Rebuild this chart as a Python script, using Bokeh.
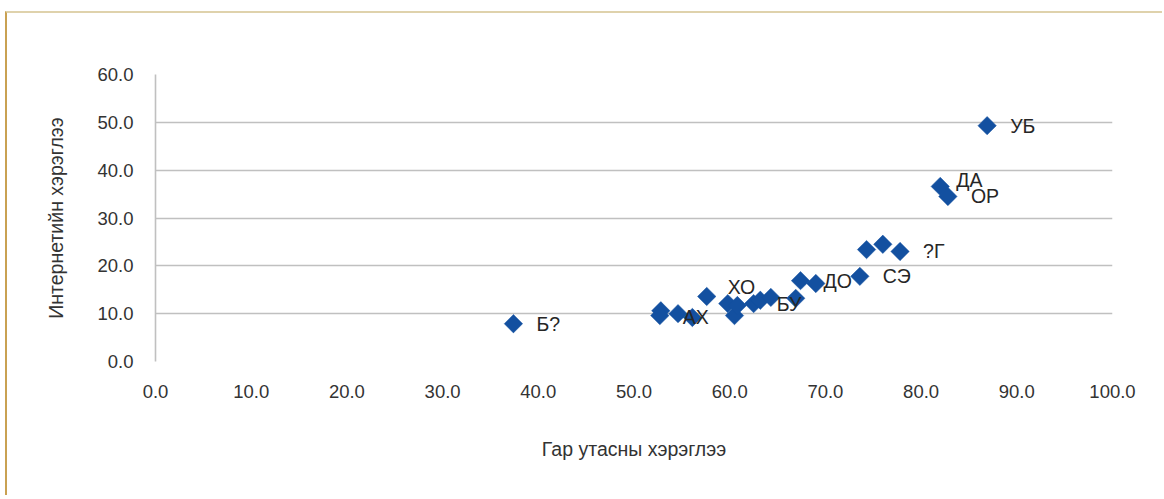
import numpy as np
from bokeh.plotting import figure
from bokeh.models import ColumnDataSource, FixedTicker, NumeralTickFormatter, Range1d
from bokeh.core.properties import value
from bokeh.embed import file_html
from bokeh.resources import INLINE

# ---- data ----
mobile_use = [37.4, 52.8, 52.7, 54.6, 56.1, 57.6, 59.8, 60.5, 60.8, 62.5, 63.2,
              64.3, 66.9, 67.4, 69.0, 73.6, 74.3, 76.0, 77.8, 82.0, 82.8, 86.9]
internet_use = [7.9, 10.6, 9.6, 10.0, 9.2, 13.6, 12.1, 9.6, 11.7, 12.1, 12.8,
                13.4, 13.2, 16.9, 16.3, 17.8, 23.4, 24.5, 23.0, 36.6, 34.5, 49.3]
point_labels = ["Б?", "", "АХ", "", "", "ХО", "", "", "", "БУ", "",
                "", "", "ДО", "", "СЭ", "", "", "?Г", "ДА", "ОР", "УБ"]
x_ticks = [0, 10, 20, 30, 40, 50, 60, 70, 80, 90, 100]
y_ticks = [0, 10, 20, 30, 40, 50, 60]
x_title = "Гар утасны хэрэглээ"
y_title = "Интернетийн хэрэглээ"

# label placement (style only, pixels)
lbl_dx = {"ХО": 21, "ДА": 16}
lbl_dy = {"ХО": -9, "ДА": -6, "АХ": 1}

FONT = "Liberation Sans"
BLUE = "#1350a0"

src = ColumnDataSource(dict(x=mobile_use, y=internet_use))

idx = [i for i, t in enumerate(point_labels) if t]
lsrc = ColumnDataSource(dict(
    x=[mobile_use[i] for i in idx],
    y=[internet_use[i] for i in idx],
    t=[point_labels[i] for i in idx],
    dx=[lbl_dx.get(point_labels[i], 23) for i in idx],
    dy=[lbl_dy.get(point_labels[i], 0) for i in idx],
))

p = figure(width=1157, height=484, output_backend="svg", toolbar_location=None,
           x_range=Range1d(min(x_ticks), max(x_ticks)),
           y_range=Range1d(min(y_ticks), max(y_ticks)),
           min_border_left=148, min_border_right=52,
           min_border_top=61, min_border_bottom=136)

p.styles = {"margin-left": "5px", "margin-top": "11px",
            "border-left": "2px solid #c9a152", "border-top": "2px solid #dfd2ac"}

p.outline_line_color = None
p.background_fill_color = "white"
p.border_fill_color = "white"

p.xgrid.visible = False
p.ygrid.ticker = FixedTicker(ticks=y_ticks)
p.ygrid.grid_line_color = "#c0c0c0"
p.ygrid.grid_line_width = 1.6

for ax in (p.xaxis[0], p.yaxis[0]):
    ax.major_tick_line_color = None
    ax.minor_tick_line_color = None
    ax.major_label_text_font = FONT
    ax.major_label_text_font_size = "18.5px"
    ax.major_label_text_color = "#333333"
    ax.axis_label_text_font = FONT
    ax.axis_label_text_font_size = "19.5px"
    ax.axis_label_text_font_style = "normal"
    ax.axis_label_text_color = "#333333"
    ax.formatter = NumeralTickFormatter(format="0.0")

p.xaxis.ticker = FixedTicker(ticks=x_ticks)
p.yaxis.ticker = FixedTicker(ticks=y_ticks)
p.xaxis.axis_line_color = None
p.yaxis.axis_line_color = "#c0c0c0"
p.yaxis.axis_line_width = 1.6
p.xaxis.major_label_standoff = 17
p.yaxis.major_label_standoff = 16
p.xaxis.axis_label = x_title
p.yaxis.axis_label = y_title
p.xaxis.axis_label_standoff = 37
p.yaxis.axis_label_standoff = 27

p.scatter("x", "y", source=src, marker="square", size=13, angle=np.pi / 4,
          fill_color=BLUE, line_color=BLUE, line_width=0.5)

p.text("x", "y", text="t", source=lsrc, x_offset="dx", y_offset="dy",
       text_font=value(FONT), text_font_size="19.5px", text_color="#262626",
       text_align="left", text_baseline="middle")

open("out.html", "w").write(file_html(p, INLINE))
